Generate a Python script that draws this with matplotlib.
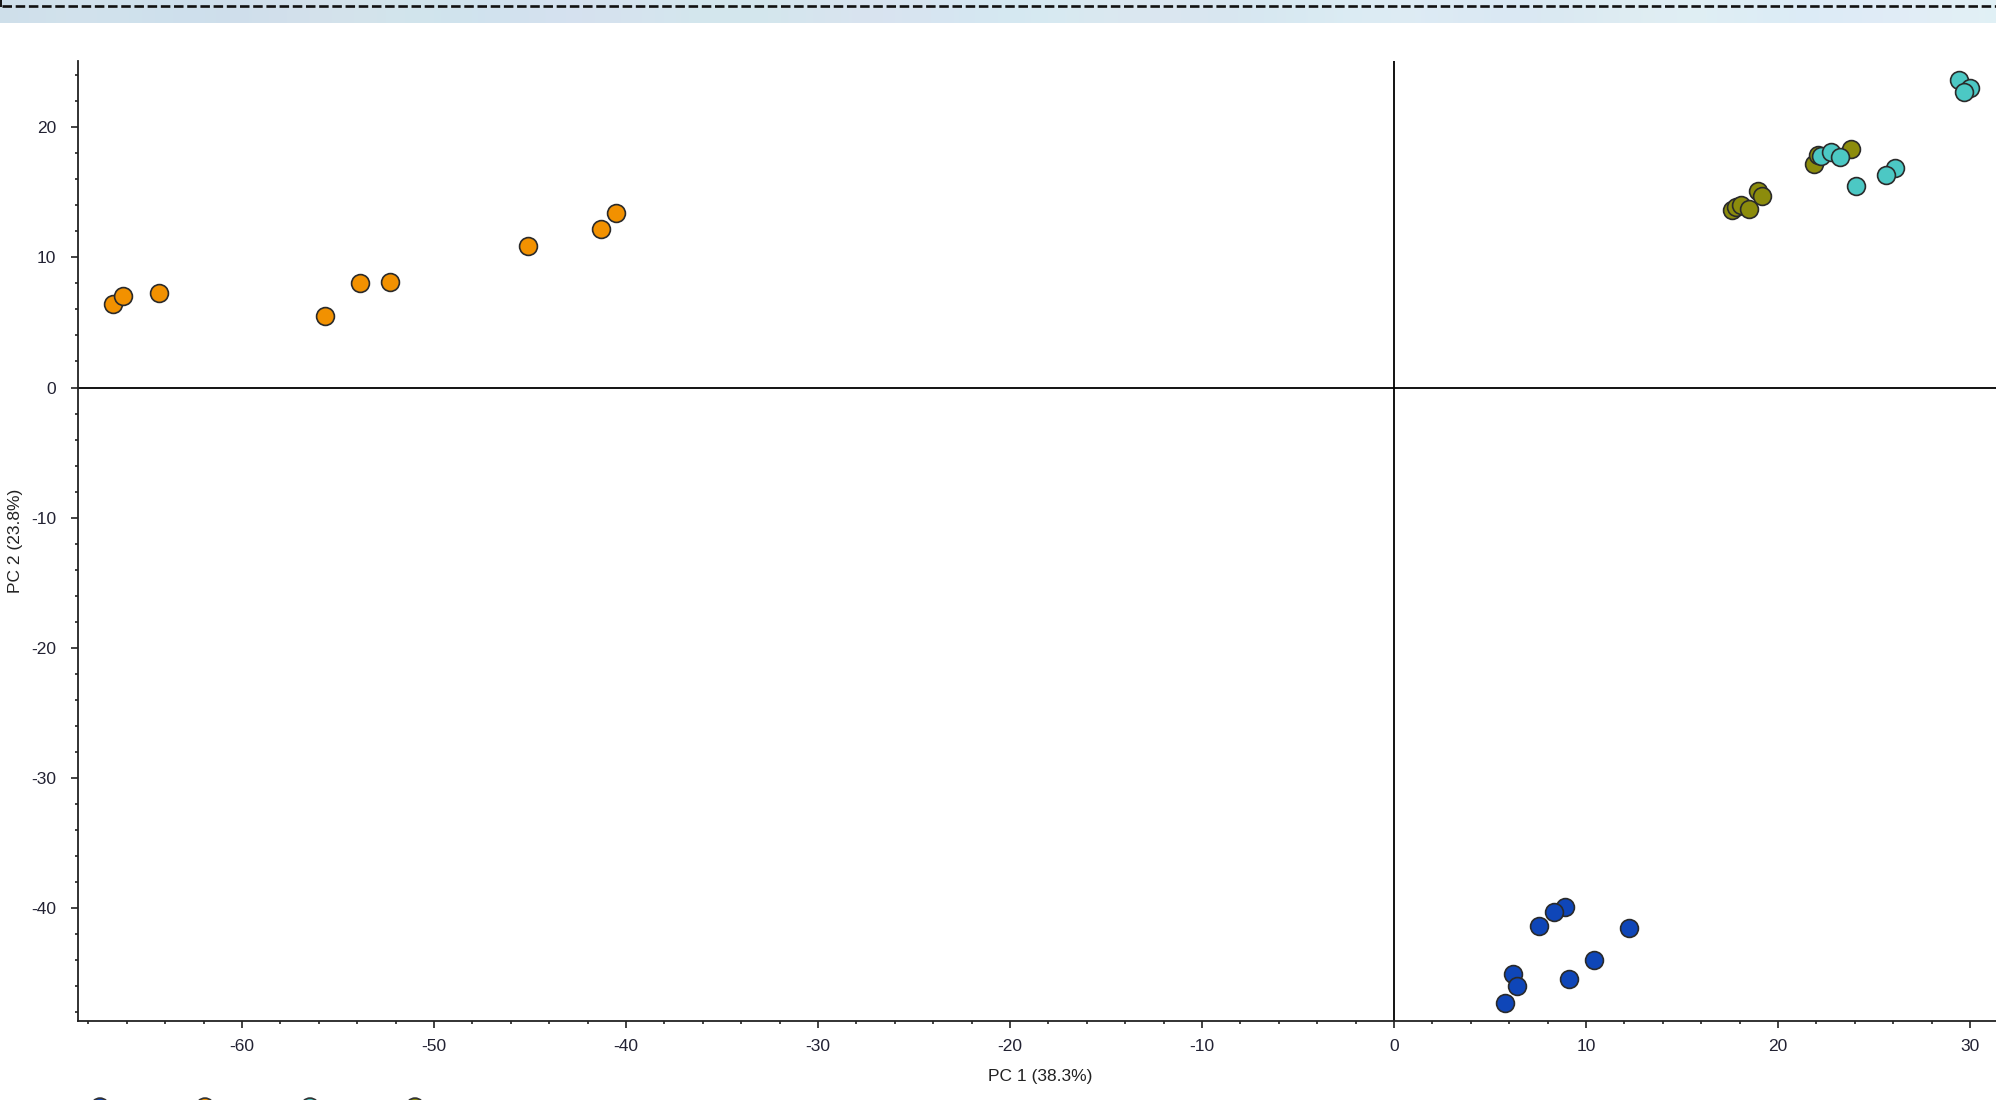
import numpy as np
import matplotlib
matplotlib.use("Agg")
import matplotlib.pyplot as plt
from matplotlib.ticker import MultipleLocator

plt.rcParams['font.family'] = ['Liberation Sans', 'DejaVu Sans']
plt.rcParams['axes.unicode_minus'] = False

# ---- data ----
orange_x = [-66.7, -66.2, -64.3, -55.7, -53.85, -52.3, -45.1, -41.3, -40.5]
orange_y = [6.4, 7.0, 7.3, 5.5, 8.0, 8.1, 10.9, 12.2, 13.4]

olive_x = [17.6, 17.8, 18.07, 18.5, 18.97, 19.15, 21.9, 22.07, 23.78]
olive_y = [13.65, 13.85, 14.06, 13.7, 15.08, 14.75, 17.2, 17.85, 18.3]

cyan_x = [29.43, 29.99, 29.68, 22.25, 22.77, 23.25, 26.1, 25.64, 24.04]
cyan_y = [23.63, 23.02, 22.7, 17.82, 18.07, 17.7, 16.9, 16.3, 15.5]

blue_x = [8.93, 8.32, 7.56, 12.25, 10.44, 9.14, 6.2, 6.42, 5.8]
blue_y = [-39.96, -40.32, -41.4, -41.53, -44.0, -45.44, -45.1, -46.0, -47.3]

series_x = [orange_x, olive_x, cyan_x, blue_x]
series_y = [orange_y, olive_y, cyan_y, blue_y]
series_colors = ['#F29100', '#8C8C0C', '#4CC8C4', '#0F46B8']
legend_colors = ['#0F46B8', '#F29100', '#4CC8C4', '#8C8C0C']

x_label = 'PC 1 (38.3%)'
y_label = 'PC 2 (23.8%)'
x_major = [-60, -50, -40, -30, -20, -10, 0, 10, 20, 30]
y_major = [-40, -30, -20, -10, 0, 10, 20]

W, H = 1996, 1100
fig = plt.figure(figsize=(W / 100, H / 100), dpi=100)
fig.patch.set_facecolor('white')

# ---- full-figure overlay in pixel coordinates (banner, cut legend) ----
ov = fig.add_axes([0, 0, 1, 1], zorder=5)
ov.axis('off')
ov.patch.set_alpha(0)

xs = np.linspace(0, 1, 600)
r = 0.81 + 0.07 * xs + 0.008 * np.sin(xs * 47)
g = 0.875 + 0.06 * xs + 0.008 * np.sin(xs * 39)
b = 0.92 + 0.045 * xs + 0.005 * np.sin(xs * 29)
grad = np.stack([r, g, b], axis=-1)[None, :, :]
grad = np.clip(np.repeat(grad, 10, axis=0), 0, 1)
ov.imshow(grad, aspect='auto', extent=[0, W, 23, 0], zorder=1)
ov.plot([2, W], [5.8, 5.8], color='#111111', lw=1.9, ls=(0, (3.6, 1.4)), zorder=2,
        dash_capstyle='butt')
ov.plot([1.5, 1.5], [0, 5.8], color='#111111', lw=1.4, zorder=2)
ov.set_xlim(0, W)
ov.set_ylim(H, 0)

leg_x = [100, 205, 310, 415]
ov.scatter(leg_x, [1107] * 4, s=165, c=legend_colors, edgecolor='#333333',
           linewidth=1.2, clip_on=False, zorder=3)

# ---- main axes ----
left_px, right_px, top_px, bottom_px = 77.7, 2002, 61, 1021
ax = fig.add_axes([left_px / W, 1 - bottom_px / H,
                   (right_px - left_px) / W, (bottom_px - top_px) / H])
ax.set_xlim(-68.56, 31.67)
ax.set_ylim(-48.7, 25.1)

ax.axhline(0, color='black', lw=1.3, zorder=1)
ax.axvline(0, color='black', lw=1.3, zorder=1)

for xv, yv, c in zip(series_x, series_y, series_colors):
    ax.scatter(xv, yv, s=165, color=c, edgecolor='#2a2a2a', linewidth=1.2, zorder=3)

for s in ['top', 'right']:
    ax.spines[s].set_visible(False)
for s in ['left', 'bottom']:
    ax.spines[s].set_linewidth(1.3)
    ax.spines[s].set_color('#222222')

ax.set_xticks(x_major)
ax.set_yticks(y_major)
ax.xaxis.set_minor_locator(MultipleLocator(2))
ax.yaxis.set_minor_locator(MultipleLocator(2))
ax.tick_params(which='major', length=5.3, width=1.2, color='#222222',
               labelsize=12.5, labelcolor='#222233')
ax.tick_params(axis='x', which='major', pad=7.5)
ax.tick_params(axis='y', which='major', pad=10)
ax.tick_params(which='minor', length=2.3, width=1.2, color='#222222')

ax.set_xlabel(x_label, fontsize=12.5, color='#222222')
ax.set_ylabel(y_label, fontsize=12.5, color='#222222')
ax.xaxis.set_label_coords((1040 - left_px) / (right_px - left_px),
                          -(1076 - bottom_px) / (bottom_px - top_px), transform=ax.transAxes)
ax.xaxis.label.set_va('center')
ax.yaxis.set_label_coords(-(left_px - 15) / (right_px - left_px), 0.5, transform=ax.transAxes)
ax.yaxis.label.set_va('center')

fig.savefig('out.png', dpi=100)
